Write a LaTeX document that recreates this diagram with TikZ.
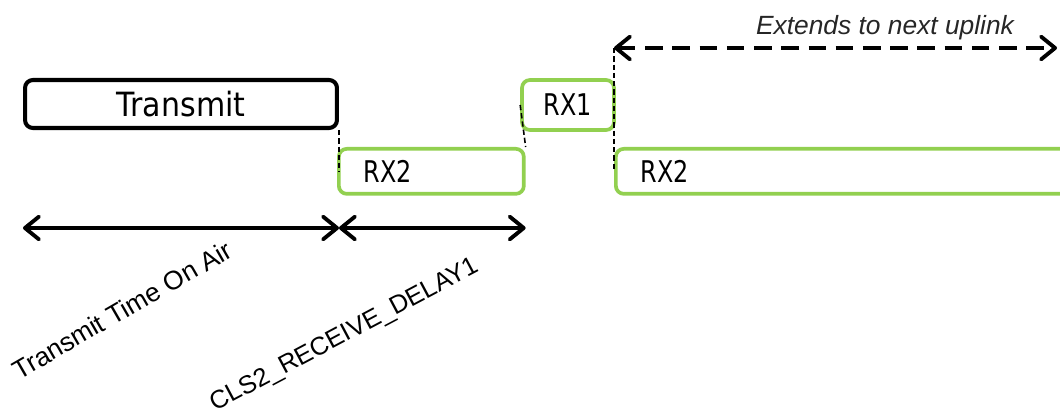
\documentclass[tikz,border=0pt]{standalone}
\usepackage{fontspec}
\setmainfont{DejaVu Sans}[FakeStretch=0.9]
\newfontfamily\rxfont{DejaVu Sans}[FakeStretch=0.8]
\newfontfamily\arialfont{Liberation Sans}
\usetikzlibrary{arrows.meta, positioning, calc}
\definecolor{rxgreen}{HTML}{92D050}

\begin{document}
\begin{tikzpicture}[x=0.02cm, y=-0.02cm,
  txbox/.style={draw=black, line width=2.3pt, rounded corners=4.5pt, inner sep=0pt,
    font=\fontsize{19}{22}\selectfont},
  rxbox/.style={draw=rxgreen, line width=2.1pt, rounded corners=4.5pt, inner ysep=0pt,
    font=\rxfont\fontsize{17}{20}\selectfont, align=left},
  slot/.style={black, line width=0.9pt, dash pattern=on 3pt off 1.7pt},
  span/.style={black, line width=2.2pt,
    {Straight Barb[length=8pt, width=13pt, line cap=round, line join=round]}-{Straight Barb[length=8pt, width=13pt, line cap=round, line join=round]}},
  label/.style={font=\arialfont\fontsize{15}{18}\selectfont, anchor=base}
]
\useasboundingbox (0,0) rectangle (1060,415);

% windows
\node[txbox, minimum width=6.24cm, minimum height=0.96cm] (tx) at (181,104) {Transmit};
\node[rxbox, anchor=north west, inner xsep=0.5cm, text width=2.7cm, minimum height=0.9cm] (rxa) at (337,147) {RX2};
\node[rxbox, inner xsep=0pt, minimum width=1.84cm, minimum height=1.0cm, align=center] (rxb) at (568,105) {RX1};
\node[rxbox, anchor=north west, inner xsep=0.5cm, text width=8.5cm, minimum height=0.9cm] (rxc) at (614,147) {RX2};

% timing marks
\coordinate (d1) at (tx.south east |- 0,172);
\coordinate (up) at (rxc.north west |- 0,48);
\coordinate (d3) at (rxc.north west |- 0,170);
\draw[slot] (tx.south east) -- (d1);
\draw[slot] (rxb.west) -- (rxa.north east);
\draw[slot] (up) -- (d3);

% durations
\coordinate (a0) at (tx.west |- 0,228);
\coordinate (a1) at (tx.east |- 0,228);
\coordinate (a2) at (rxa.east |- 0,228);
\coordinate (e1) at (1057,48);
\draw[span] (a0) -- (a1);
\draw[span] (a1) -- (a2);
\draw[span, dash pattern=on 10pt off 5.5pt] (up) -- (e1);

\node[font=\arialfont\itshape\fontsize{15}{18}\selectfont, text=black!85] (ext) at (885,28) {Extends to next uplink};
\node[label, rotate=30] (toa) at (127,318) {Transmit Time On Air};
\node[label, rotate=28, font=\arialfont\fontsize{14.5}{18}\selectfont] (rd1) at (348,341) {CLS2\_RECEIVE\_DELAY1};
\end{tikzpicture}
\end{document}
